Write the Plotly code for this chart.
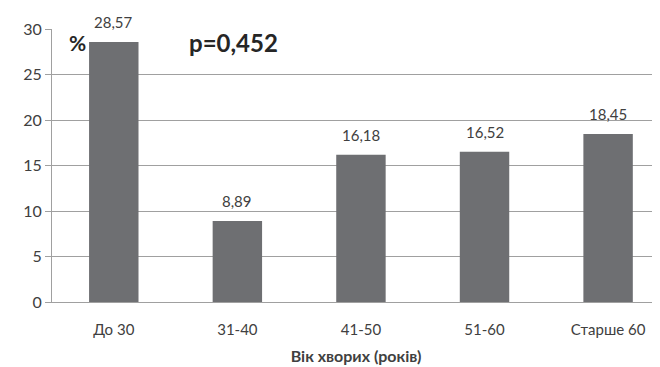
import plotly.graph_objects as go

categories = ["До 30", "31-40", "41-50", "51-60", "Старше 60"]
values = [28.57, 8.89, 16.18, 16.52, 18.45]
y_ticks = [0, 5, 10, 15, 20, 25, 30]
x_title = "Вік хворих (років)"
p_text = "p=0,452"

labels = [f"{v:.2f}".replace(".", ",") for v in values]

fig = go.Figure(go.Bar(
    x=categories, y=values, width=0.4,
    marker=dict(color="#6e6f72", line=dict(width=0)),
))

value_annotations = [
    dict(x=c, y=v, xref="x", yref="y", text=t, showarrow=False,
         xanchor="center", yanchor="bottom", yshift=9,
         font=dict(family="Lato, sans-serif", size=15, color="#404040"))
    for c, v, t in zip(categories, values, labels)
]

# page body has an 8px default margin; size figure so it fills the 660x367 window
fig.update_layout(
    width=652, height=359,
    margin=dict(l=44, r=0, t=21, b=65),
    paper_bgcolor="white", plot_bgcolor="white",
    showlegend=False,
    font=dict(family="Lato, sans-serif", color="#404040"),
    xaxis=dict(range=[-0.5, 4.42], showline=True, linecolor="#a0a0a0", linewidth=1,
               ticks="outside", ticklen=14, tickcolor="rgba(0,0,0,0)",
               tickfont=dict(size=15, color="#404040"),
               title=dict(text=f"<b>{x_title}</b>", font=dict(size=16, color="#404040"), standoff=13)),
    yaxis=dict(range=[0, 30], tickvals=y_ticks, showgrid=True, gridcolor="#a0a0a0",
               gridwidth=1, showline=True, linecolor="#a0a0a0", linewidth=1,
               ticks="outside", ticklen=6, tickcolor="#a0a0a0",
               tickfont=dict(size=16, color="#404040"), zeroline=False),
    annotations=value_annotations + [
        dict(text="<b>%</b>", xref="paper", yref="paper", x=0.025, y=0.952,
             xanchor="left", yanchor="middle", showarrow=False,
             font=dict(size=21, color="#262626")),
        dict(text=f"<b>{p_text}</b>", xref="paper", yref="paper", x=0.222, y=0.952,
             xanchor="left", yanchor="middle", showarrow=False,
             font=dict(size=24, color="#262626")),
    ],
)

fig.write_html("out.html")
